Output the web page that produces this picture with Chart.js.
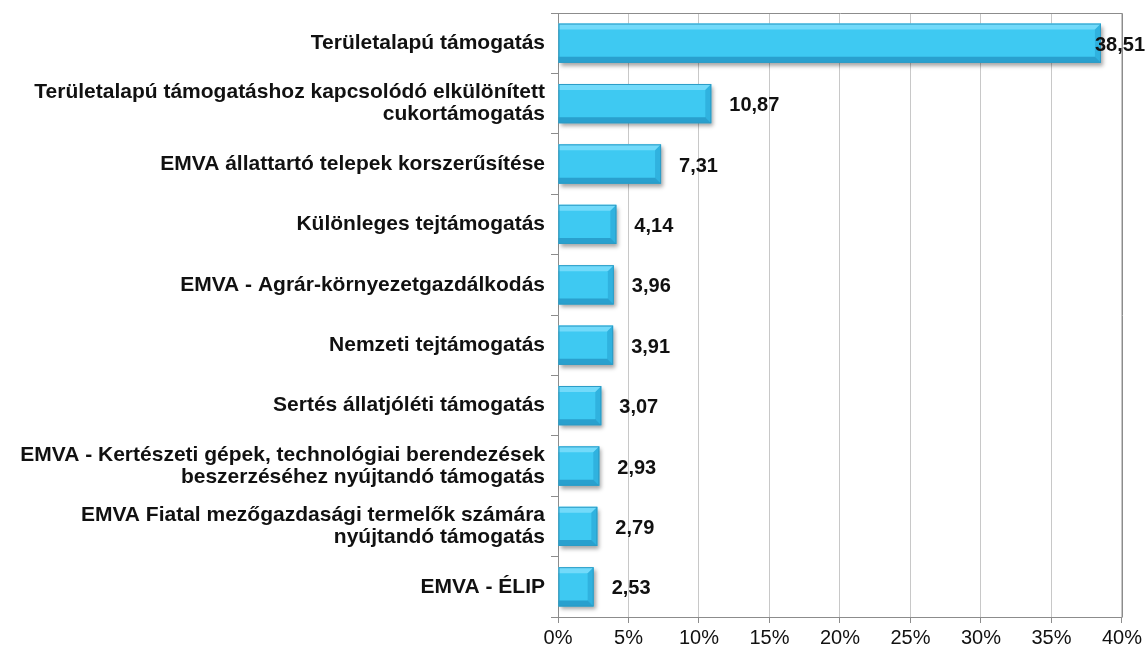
<!DOCTYPE html>
<html>
<head>
<meta charset="utf-8">
<script src="https://cdn.jsdelivr.net/npm/chart.js@4"></script>
<style>
  html, body { margin: 0; padding: 0; background: #fff; }
  #wrap { width: 1145px; height: 653px; position: relative; }
</style>
</head>
<body>
<div id="wrap"><canvas id="chart"></canvas></div>
<script>
const categories = [
  ['Területalapú támogatás'],
  ['Területalapú támogatáshoz kapcsolódó elkülönített', 'cukortámogatás'],
  ['EMVA állattartó telepek korszerűsítése'],
  ['Különleges tejtámogatás'],
  ['EMVA - Agrár-környezetgazdálkodás'],
  ['Nemzeti tejtámogatás'],
  ['Sertés állatjóléti támogatás'],
  ['EMVA - Kertészeti gépek, technológiai berendezések', 'beszerzéséhez nyújtandó támogatás'],
  ['EMVA Fiatal mezőgazdasági termelők számára', 'nyújtandó támogatás'],
  ['EMVA - ÉLIP']
];
const shares = [38.51, 10.87, 7.31, 4.14, 3.96, 3.91, 3.07, 2.93, 2.79, 2.53];
const xTicks = [0, 5, 10, 15, 20, 25, 30, 35, 40];

const FONT = '"Liberation Sans", Arial, sans-serif';

// bar shadow + bevel, drawn on the bar elements Chart.js lays out
const bevelBars = {
  id: 'bevelBars',
  beforeDatasetDraw(chart) {
    const ctx = chart.ctx;
    ctx.save();
    ctx.shadowColor = 'rgba(0,0,0,0.35)';
    ctx.shadowBlur = 4;
    ctx.shadowOffsetX = 2;
    ctx.shadowOffsetY = 3;
  },
  afterDatasetDraw(chart) {
    const ctx = chart.ctx;
    ctx.restore();
    const meta = chart.getDatasetMeta(0);
    meta.data.forEach(bar => {
      const l = bar.base, r = bar.x, t = bar.y - bar.height / 2, b = bar.y + bar.height / 2;
      const e = 6;
      ctx.save();
      // top bevel
      ctx.fillStyle = 'rgba(150,230,255,0.6)';
      ctx.beginPath();
      ctx.moveTo(l, t); ctx.lineTo(r, t); ctx.lineTo(r - e, t + e); ctx.lineTo(l, t + e); ctx.closePath();
      ctx.fill();
      // right bevel
      ctx.fillStyle = 'rgba(30,150,200,0.45)';
      ctx.beginPath();
      ctx.moveTo(r, t); ctx.lineTo(r, b); ctx.lineTo(r - e, b - e); ctx.lineTo(r - e, t + e); ctx.closePath();
      ctx.fill();
      // bottom bevel
      ctx.fillStyle = 'rgba(20,120,170,0.5)';
      ctx.beginPath();
      ctx.moveTo(l, b); ctx.lineTo(r, b); ctx.lineTo(r - e, b - e); ctx.lineTo(l, b - e); ctx.closePath();
      ctx.fill();
      ctx.strokeStyle = '#2b9cc6';
      ctx.lineWidth = 1;
      ctx.strokeRect(l + 0.5, t + 0.5, r - l - 1, b - t - 1);
      ctx.restore();
    });
  }
};

// value labels at bar ends
const valueLabels = {
  id: 'valueLabels',
  afterDatasetsDraw(chart) {
    const ctx = chart.ctx;
    const meta = chart.getDatasetMeta(0);
    ctx.save();
    ctx.font = 'bold 20px ' + FONT;
    ctx.fillStyle = '#111';
    ctx.textBaseline = 'middle';
    meta.data.forEach((bar, i) => {
      const txt = shares[i].toFixed(2).replace('.', ',');
      const w = ctx.measureText(txt).width;
      let x = bar.x + 18;
      if (x + w > chart.width) x = chart.width - w;
      ctx.fillText(txt, x, bar.y + 2);
    });
    ctx.restore();
  }
};

// plot frame (top and right edges)
const plotFrame = {
  id: 'plotFrame',
  beforeDatasetsDraw(chart) {
    const a = chart.chartArea, ctx = chart.ctx;
    ctx.save();
    ctx.strokeStyle = '#8c8c8c';
    ctx.lineWidth = 1;
    ctx.beginPath();
    ctx.moveTo(Math.round(a.left) + 0.5, Math.round(a.top) + 0.5);
    ctx.lineTo(Math.round(a.right) + 0.5, Math.round(a.top) + 0.5);
    ctx.lineTo(Math.round(a.right) + 0.5, Math.round(a.bottom) + 0.5);
    ctx.stroke();
    ctx.restore();
  }
};

new Chart(document.getElementById('chart'), {
  type: 'bar',
  data: {
    labels: categories,
    datasets: [{
      data: shares,
      backgroundColor: '#3ec9f2',
      borderWidth: 0,
      barPercentage: 0.65,
      categoryPercentage: 1
    }]
  },
  options: {
    indexAxis: 'y',
    responsive: true,
    maintainAspectRatio: false,
    animation: false,
    layout: { padding: { top: 13, right: 23, bottom: 0, left: 0 } },
    plugins: { legend: { display: false }, tooltip: { enabled: false } },
    scales: {
      x: {
        min: 0, max: 40,
        afterBuildTicks: s => { s.ticks = xTicks.map(v => ({ value: v })); },
        ticks: {
          callback: v => v + '%',
          color: '#111',
          font: { family: FONT, size: 20 },
          padding: 3
        },
        grid: { color: '#c8c8c8', tickLength: 6, tickColor: '#8c8c8c' },
        border: { color: '#8c8c8c' }
      },
      y: {
        afterFit: s => { s.width = 558; s.paddingTop = 0; s.paddingBottom = 0; },
        ticks: {
          color: '#111',
          font: { family: FONT, size: 21, weight: 'bold', lineHeight: 1.05 },
          padding: 6,
          autoSkip: false
        },
        grid: { offset: true, drawOnChartArea: false, tickLength: 7, color: '#8c8c8c' },
        border: { color: '#8c8c8c' }
      }
    }
  },
  plugins: [plotFrame, bevelBars, valueLabels]
});
</script>
</body>
</html>
